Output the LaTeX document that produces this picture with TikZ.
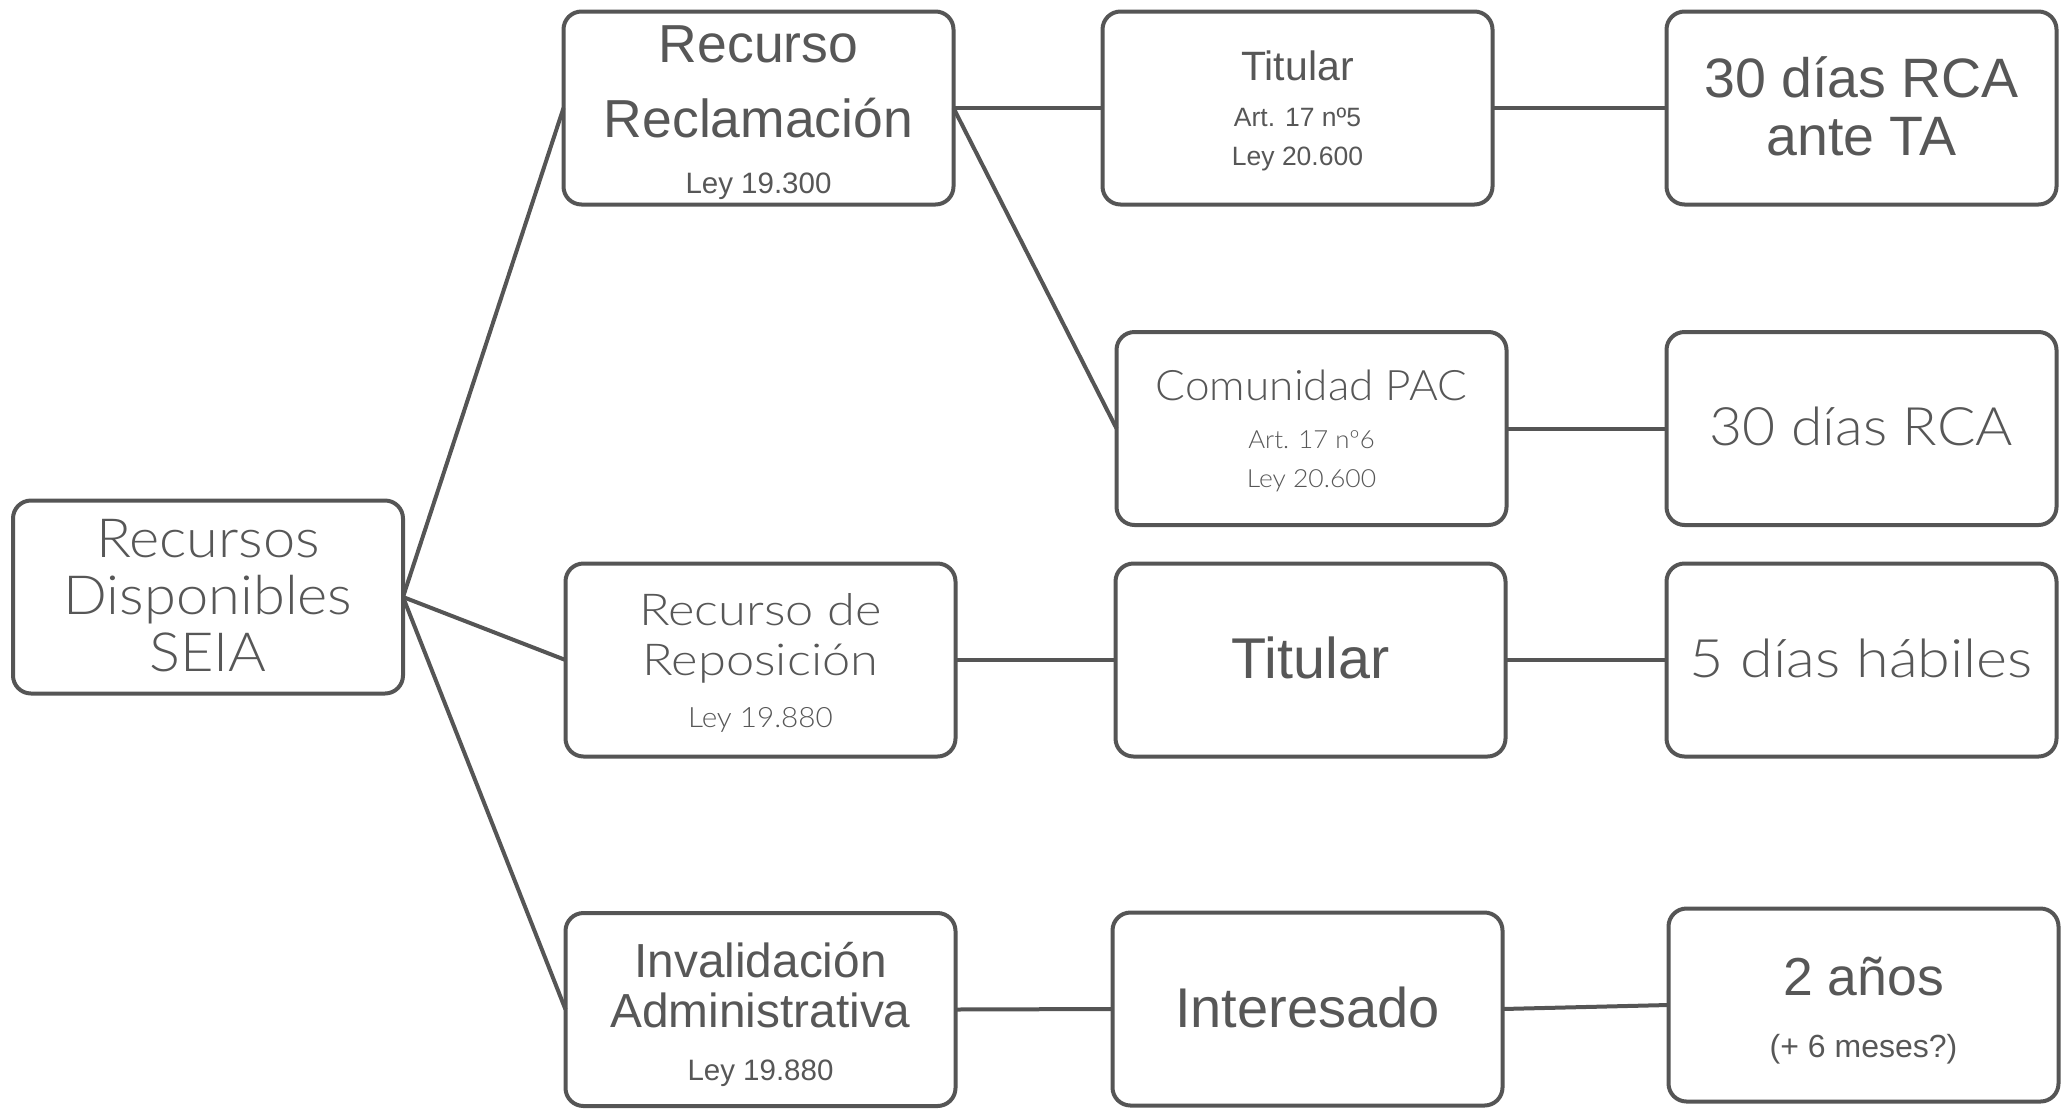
\documentclass[tikz,border=0pt]{standalone}
\usepackage{fontspec}
\setmainfont{Liberation Sans}
\newfontfamily\thinfont{Lato Light}
\definecolor{edge}{HTML}{555555}
\definecolor{ink}{HTML}{575757}
\tikzset{
  box/.style={draw=edge, line width=4pt, rounded corners=18pt, fill=white,
    minimum width=390pt, minimum height=193pt, inner sep=0pt, outer sep=0pt},
  link/.style={draw=edge, line width=4pt},
  txt/.style={anchor=base, inner sep=0pt, text=ink},
}
\newcommand{\fs}[2]{\fontsize{#1}{#2}\selectfont}
\newcommand{\sx}[2]{\scalebox{#1}[1]{#2}}
\begin{document}
\begin{tikzpicture}[x=1pt,y=-1pt]
\useasboundingbox (0,0) rectangle (2069,1109);
% boxes
\node[box] (root)  at (208,597) {};
\node[box] (recl)  at (758.5,108) {};
\node[box] (tit1)  at (1297.5,108) {};
\node[box] (ta30)  at (1861.5,108) {};
\node[box] (pac)   at (1311.5,428.5) {};
\node[box] (rca30) at (1861.5,428.5) {};
\node[box] (repo)  at (760.5,660) {};
\node[box] (tit2)  at (1310.5,660) {};
\node[box] (dias5) at (1861.5,660) {};
\node[box] (inval) at (760.5,1009.5) {};
\node[box] (inter) at (1307.5,1009) {};
\node[box] (anos)  at (1863.5,1005) {};
% connectors
\draw[link] (root.east) -- (recl.west);
\draw[link] (root.east) -- (repo.west);
\draw[link] (root.east) -- (inval.west);
\draw[link] (recl.east) -- (tit1.west);
\draw[link] (recl.east) -- (pac.west);
\draw[link] (tit1.east) -- (ta30.west);
\draw[link] (pac.east) -- (rca30.west);
\draw[link] (repo.east) -- (tit2.west);
\draw[link] (tit2.east) -- (dias5.west);
\draw[link] (inval.east) -- (inter.west);
\draw[link] (inter.east) -- (anos.west);
% texts
\node[txt] (t1a) at (208,557) {\thinfont\fs{54}{57}\sx{1.07}{Recursos}};
\node[txt] (t1b) at (208,614) {\thinfont\fs{54}{57}\sx{1.07}{Disponibles}};
\node[txt] (t1c) at (208,671) {\thinfont\fs{54}{57}\sx{1.07}{SEIA}};

\node[txt] (t2a) at (758.5,62) {\fs{53.5}{60}Recurso};
\node[txt] (t2b) at (758.5,137) {\fs{53.5}{60}Reclamación};
\node[txt] (t2c) at (758.5,193) {\fs{29.5}{30}Ley 19.300};

\node[txt] (t3a) at (1297.5,80) {\fs{41}{42}Titular};
\node[txt] (t3b) at (1297.5,126) {\fs{26.5}{28}Art. 17 nº5};
\node[txt] (t3c) at (1297.5,165) {\fs{26.5}{28}Ley 20.600};

\node[txt] (t4a) at (1861.5,97) {\fs{55.5}{58}30 días RCA};
\node[txt] (t4b) at (1861.5,155) {\fs{55.5}{58}ante TA};

\node[txt] (t5a) at (1311.5,400) {\thinfont\fs{42}{44}\sx{1.05}{Comunidad PAC}};
\node[txt] (t5b) at (1311.5,448) {\thinfont\fs{25}{28}\sx{1.03}{Art. 17 nº6}};
\node[txt] (t5c) at (1311.5,487) {\thinfont\fs{25}{28}\sx{1.06}{Ley 20.600}};

\node[txt] (t6) at (1861.5,445) {\thinfont\fs{53}{56}\sx{1.075}{30 días RCA}};

\node[txt] (t7a) at (760.5,625) {\thinfont\fs{44}{48}\sx{1.15}{Recurso de}};
\node[txt] (t7b) at (760.5,675) {\thinfont\fs{44}{48}\sx{1.15}{Reposición}};
\node[txt] (t7c) at (760.5,727) {\thinfont\fs{28}{30}\sx{1.06}{Ley 19.880}};

\node[txt] (t8) at (1310.5,678) {\fs{57.5}{60}Titular};
\node[txt] (t9) at (1861.5,677) {\thinfont\fs{53}{56}\sx{1.12}{5 días hábiles}};

\node[txt] (t10a) at (760.5,977) {\fs{47.8}{50}Invalidación};
\node[txt] (t10b) at (760.5,1027) {\fs{47.8}{50}Administrativa};
\node[txt] (t10c) at (760.5,1080) {\fs{29.5}{30}Ley 19.880};

\node[txt] (t11) at (1307.5,1027) {\fs{56}{60}Interesado};

\node[txt] (t12a) at (1863.5,995) {\fs{53.5}{56}2 años};
\node[txt] (t12b) at (1863.5,1057) {\fs{32}{34}(+ 6 meses?)};
\end{tikzpicture}
\end{document}
